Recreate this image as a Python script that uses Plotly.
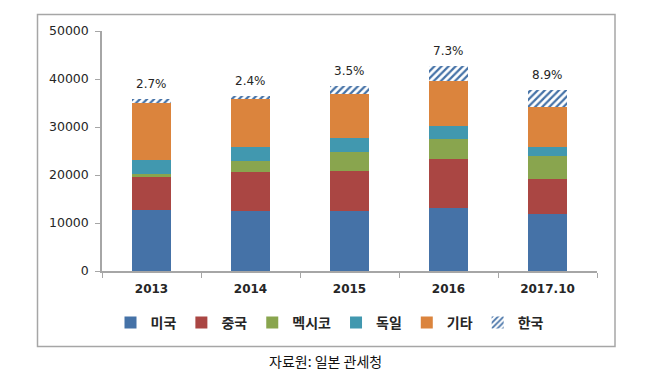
import plotly.graph_objects as go

categories = ["2013", "2014", "2015", "2016", "2017.10"]
usa = [12640, 12430, 12430, 13130, 11950]
china = [6940, 8130, 8400, 10130, 7220]
mexico = [560, 2360, 4020, 4310, 4850]
germany = [3050, 2910, 2930, 2640, 1880]
others = [11740, 9930, 9100, 9370, 8340]
korea = [970, 630, 1590, 3200, 3470]
korea_share = ["2.7%", "2.4%", "3.5%", "7.3%", "8.9%"]
y_ticks = [0, 10000, 20000, 30000, 40000, 50000]

KFONT = "Noto Sans CJK KR"
NFONT = "DejaVu Sans"
TXT = "#262626"

series = [
    ("미국", usa, "#4572A7"),
    ("중국", china, "#AA4643"),
    ("멕시코", mexico, "#89A54E"),
    ("독일", germany, "#4198AF"),
    ("기타", others, "#DB843D"),
]

fig = go.Figure()
for name, vals, col in series:
    fig.add_trace(go.Bar(x=categories, y=vals, name=name,
                         marker=dict(color=col, line=dict(width=0))))
fig.add_trace(go.Bar(x=categories, y=korea, name="한국",
                     marker=dict(color="white", line=dict(width=0),
                                 pattern=dict(shape="/", fgcolor="#4572A7", bgcolor="white",
                                              size=5, solidity=0.45, fillmode="replace"))))

totals = [sum(v) for v in zip(usa, china, mexico, germany, others, korea)]
for i, (t, s) in enumerate(zip(totals, korea_share)):
    fig.add_annotation(x=i, y=t, xref="x", yref="y", text=s, showarrow=False,
                       yanchor="bottom", yshift=6,
                       font=dict(family=NFONT, size=12, color=TXT))

# page body has an 8px margin: figure coordinates = reference pixels - 8
OFF = 8
L, R, T, B = 102 - OFF, 597 - OFF, 31 - OFF, 271 - OFF
W, H = 658 - OFF, 376 - OFF
PW, PH = R - L, B - T

def px(xp):
    return (xp - OFF - L) / PW

def py(yp):
    return (B - (yp - OFF)) / PH

fig.add_annotation(xref="paper", yref="paper", x=px(325), y=py(361),
                   text="자료원: 일본 관세청", showarrow=False, xanchor="center", yanchor="middle",
                   font=dict(family=KFONT, size=14, color="#111"))

fig.add_shape(type="rect", xref="paper", yref="paper",
              x0=px(37.5), x1=px(615), y0=py(346.5), y1=py(14.5),
              line=dict(color="#A6A6A6", width=1.5), fillcolor="rgba(0,0,0,0)", layer="below")

fig.update_layout(
    width=W, height=H,
    margin=dict(l=L, r=W - R, t=T, b=H - B, autoexpand=False),
    barmode="stack", bargap=0.61,
    plot_bgcolor="white", paper_bgcolor="white",
    font=dict(family=KFONT, size=13, color=TXT),
    legend=dict(orientation="h", x=px(330), xanchor="center",
                y=py(323), yanchor="middle",
                font=dict(family=KFONT, size=14, color=TXT, weight="bold"),
                itemwidth=30, traceorder="normal"),
    xaxis=dict(type="category", range=[-0.5, 4.5], showline=True, linecolor="#A6A6A6",
               linewidth=1.5, ticks="outside", tickson="boundaries", ticklen=5,
               tickcolor="#A6A6A6", automargin=False, tickangle=0, ticklabelstandoff=6,
               tickfont=dict(family=NFONT, size=12, color=TXT, weight="bold"),
               showgrid=False),
    yaxis=dict(range=[0, 50000], tickvals=y_ticks, tickformat="d", showline=True,
               linecolor="#A6A6A6", linewidth=1.5, ticks="outside", ticklen=5,
               tickcolor="#A6A6A6", showgrid=False, zeroline=False, automargin=False,
               ticklabelstandoff=4,
               tickfont=dict(family=NFONT, size=12.5, color=TXT)),
    showlegend=True,
)

fig.write_html("out.html")
